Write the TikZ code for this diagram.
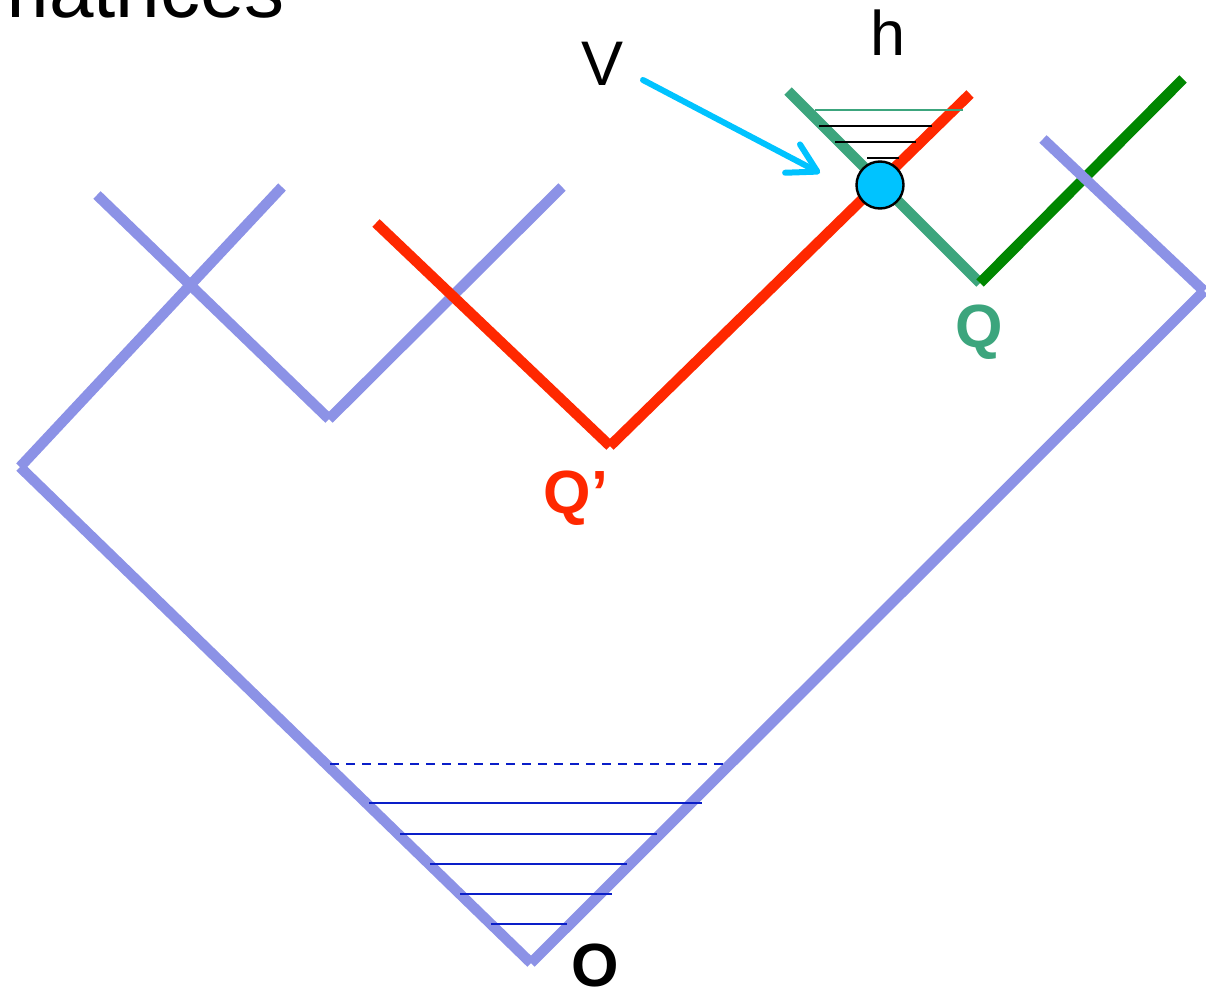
\documentclass[tikz,border=0pt]{standalone}
\usepackage{fontspec}
\setmainfont{Liberation Sans}
\usetikzlibrary{arrows.meta}
\definecolor{lav}{RGB}{140,146,230}
\definecolor{redq}{RGB}{255,40,0}
\definecolor{tealq}{RGB}{60,165,125}
\definecolor{dgreen}{RGB}{0,135,0}
\definecolor{cyanv}{RGB}{0,195,255}
\definecolor{blueh}{RGB}{10,30,200}
\tikzset{
  lavline/.style={draw=lav, line width=10.5pt},
  redline/.style={draw=redq, line width=10.5pt},
  tealline/.style={draw=tealq, line width=10.5pt},
  greenline/.style={draw=dgreen, line width=10.5pt},
  hline/.style={draw=blueh, line width=2.6pt},
  kline/.style={draw=black, line width=2.8pt},
  bigtext/.style={inner sep=0pt, anchor=base, font=\fontsize{63}{63}\selectfont},
  boldtext/.style={inner sep=0pt, anchor=base, font=\fontsize{61}{61}\selectfont\bfseries},
}
\begin{document}
\begin{tikzpicture}[x=1pt,y=-1pt]
\useasboundingbox (0,0) rectangle (1206,993);
% vertices
\coordinate (O) at (531,963);
\coordinate (L) at (20,467);
\coordinate (R) at (1204,291);
\coordinate (A1) at (282,187);
\coordinate (B1) at (97,195);
\coordinate (M1) at (329,419);
\coordinate (A2) at (562,187);
\coordinate (RL) at (376,223);
\coordinate (QP) at (610,446);
\coordinate (RT) at (970,94);
\coordinate (TT) at (788,91);
\coordinate (QV) at (980,283);
\coordinate (GT) at (1183,79);
\coordinate (PT) at (1043,139);
% purple tree
\draw[lavline] (L) -- (O);
\draw[lavline] (O) -- (R);
\draw[lavline] (L) -- (A1);
\draw[lavline] (B1) -- (M1);
\draw[lavline] (M1) -- (A2);
% red and green lines
\draw[redline] (RL) -- (QP);
\draw[redline] (QP) -- (RT);
\draw[tealline] (TT) -- (QV);
\draw[greenline] (QV) -- (GT);
\draw[lavline] (PT) -- (R);
% horizontal lines at O
\coordinate (d1) at (330,764); \coordinate (d2) at (723,764);
\draw[hline, dash pattern=on 9pt off 7pt] (d1) -- (d2);
\coordinate (s1a) at (369,803); \coordinate (s1b) at (702,803);
\coordinate (s2a) at (400,834); \coordinate (s2b) at (657,834);
\coordinate (s3a) at (430,864); \coordinate (s3b) at (627,864);
\coordinate (s4a) at (460,894); \coordinate (s4b) at (612,894);
\coordinate (s5a) at (491,924); \coordinate (s5b) at (567,924);
\draw[hline] (s1a) -- (s1b);
\draw[hline] (s2a) -- (s2b);
\draw[hline] (s3a) -- (s3b);
\draw[hline] (s4a) -- (s4b);
\draw[hline] (s5a) -- (s5b);
% lines near h
\coordinate (t1a) at (815,110); \coordinate (t1b) at (963,110);
\coordinate (k1a) at (819,126); \coordinate (k1b) at (932,126);
\coordinate (k2a) at (835,142); \coordinate (k2b) at (916,142);
\coordinate (k3a) at (867,158); \coordinate (k3b) at (899,158);
\draw[draw=tealq, line width=2.4pt] (t1a) -- (t1b);
\draw[kline] (k1a) -- (k1b);
\draw[kline] (k2a) -- (k2b);
\draw[kline] (k3a) -- (k3b);
% vertex circle
\node[circle, draw=black, fill=cyanv, line width=2.4pt, minimum size=47pt, inner sep=0pt] (C) at (880,185) {};
% V arrow
\coordinate (VS) at (643,80);
\coordinate (VE) at (820,173);
\draw[draw=cyanv, line width=6pt, line cap=round, -{Straight Barb[length=28pt,width=32pt,round]}] (VS) -- (VE);
% labels
\node[bigtext] (lV) at (603,85) {V};
\node[bigtext] (lh) at (888,55) {h};
\node[boldtext, text=tealq] (lQ) at (979,347) {Q};
\node[boldtext, text=redq] (lQp) at (576,513) {Q’};
\node[boldtext] (lO) at (595,986) {O};
\node[inner sep=0pt, anchor=base east, font=\fontsize{80}{80}\selectfont] (title) at (285,17) {matrices};
\end{tikzpicture}
\end{document}
